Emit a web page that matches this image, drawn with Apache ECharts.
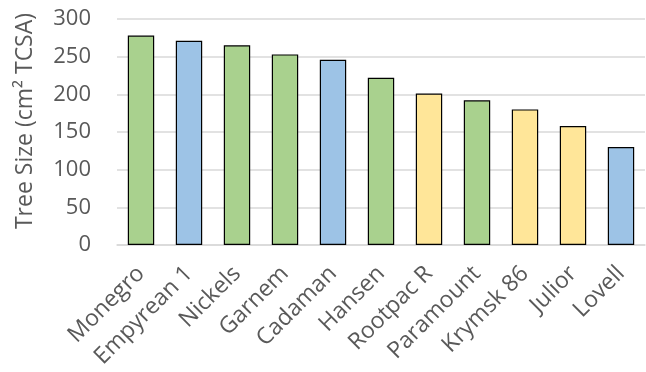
<!DOCTYPE html>
<html>
<head>
<meta charset="utf-8">
<script src="https://cdn.jsdelivr.net/npm/echarts@6/dist/echarts.min.js"></script>
<style>
  html, body { margin: 0; padding: 0; background: #fff; }
  #chart { width: 646px; height: 372px; }
</style>
</head>
<body>
<div id="chart"></div>
<script>
// Rootstock names, tree size and rootstock group
const categories = ['Monegro', 'Empyrean 1', 'Nickels', 'Garnem', 'Cadaman', 'Hansen', 'Rootpac R', 'Paramount', 'Krymsk 86', 'Julior', 'Lovell'];
const treeSize = [278, 271, 265, 253, 246, 222, 201, 192, 180, 158, 130];
const groups = ['green', 'blue', 'green', 'green', 'blue', 'green', 'yellow', 'green', 'yellow', 'yellow', 'blue'];
const yTicks = [0, 50, 100, 150, 200, 250, 300];

const groupColors = { green: '#A9D18E', blue: '#9DC3E6', yellow: '#FFE699' };
const font = '"Open Sans", sans-serif';

const chart = echarts.init(document.getElementById('chart'));
chart.setOption({
  animation: false,
  grid: { left: 117, right: 1, top: 19, bottom: 127 },
  xAxis: {
    type: 'category',
    data: categories,
    axisLine: { show: true, lineStyle: { color: '#d9d9d9', width: 1.5 } },
    axisTick: { show: false },
    axisLabel: {
      rotate: 45, interval: 0, margin: 25,
      fontFamily: font, fontSize: 23, color: '#595959'
    }
  },
  yAxis: {
    type: 'value',
    min: yTicks[0], max: yTicks[yTicks.length - 1], interval: 50,
    name: 'Tree Size (cm² TCSA)',
    nameLocation: 'middle', nameGap: 80,
    nameTextStyle: { fontFamily: font, fontSize: 23, color: '#595959', padding: [0, 0, 0, 22] },
    axisLine: { show: false },
    axisTick: { show: false },
    axisLabel: { fontFamily: font, fontSize: 22, color: '#595959', margin: 26 },
    splitLine: { lineStyle: { color: '#d9d9d9', width: 1.5 } }
  },
  series: [{
    type: 'bar',
    barWidth: '55%',
    data: treeSize.map((v, i) => ({
      value: v,
      itemStyle: { color: groupColors[groups[i]] }
    })),
    itemStyle: { borderColor: '#000', borderWidth: 1.2 }
  }]
});
</script>
</body>
</html>
